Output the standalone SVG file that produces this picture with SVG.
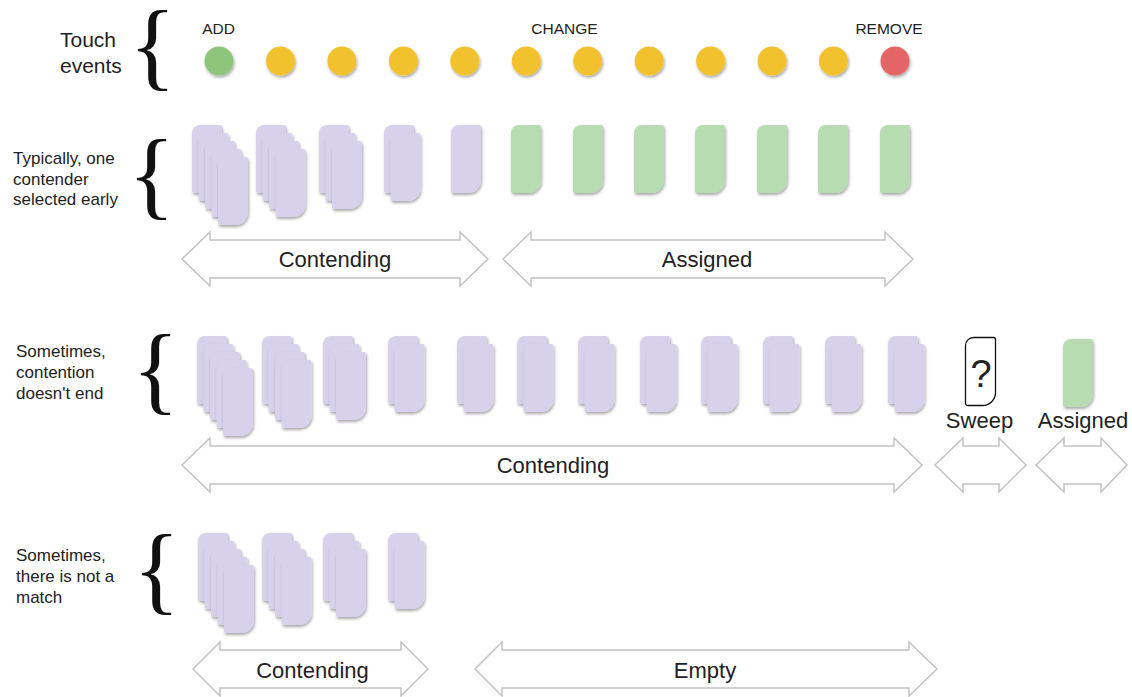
<svg xmlns="http://www.w3.org/2000/svg" width="1132" height="697" viewBox="0 0 1132 697">
<style>
text{font-family:"Liberation Sans",Arial,sans-serif;fill:#222}
.lbl{font-size:17px}
.big{font-size:21px}
.ev{font-size:15.5px;text-anchor:middle}
.al{font-size:22px;text-anchor:middle}
.brace{font-family:"Liberation Serif","Times New Roman",serif;font-size:98px;fill:#111}
.p{fill:#d7d1ec}
.g{fill:#b7dcb1}
.span{fill:#fff;stroke:#c2c2c2;stroke-width:1.5;stroke-linejoin:miter}
.sh{filter:url(#ds)}
</style>
<defs>
<filter id="ds" x="-30%" y="-20%" width="160%" height="150%">
<feDropShadow dx="1" dy="2" stdDeviation="1.4" flood-color="#000" flood-opacity="0.34"/>
</filter>
<path id="card" d="M8,0 H28 A2,2 0 0 1 30,2 V55 A13,13 0 0 1 17,68 H2 A2,2 0 0 1 0,66 V8 A8,8 0 0 1 8,0 Z"/>
</defs>
<rect width="1132" height="697" fill="#fff"/>

<g id="label-touch">
<text class="big" x="60" y="47">Touch</text>
<text class="big" x="60" y="73">events</text>
<text class="brace" x="129" y="78">{</text>
</g>
<g id="label-row1">
<text class="lbl" x="13" y="164">Typically, one</text>
<text class="lbl" x="13" y="185">contender</text>
<text class="lbl" x="13" y="205">selected early</text>
<text class="brace" x="128" y="207">{</text>
</g>
<g id="label-row2">
<text class="lbl" x="16" y="357">Sometimes,</text>
<text class="lbl" x="16" y="378">contention</text>
<text class="lbl" x="16" y="399">doesn't end</text>
<text class="brace" x="132" y="402">{</text>
</g>
<g id="label-row4">
<text class="lbl" x="16" y="561">Sometimes,</text>
<text class="lbl" x="16" y="582">there is not a</text>
<text class="lbl" x="16" y="603">match</text>
<text class="brace" x="133" y="602">{</text>
</g>

<g id="event-labels">
<text class="ev" x="218.5" y="34">ADD</text>
<text class="ev" x="564.5" y="34">CHANGE</text>
<text class="ev" x="889" y="34">REMOVE</text>
</g>
<g id="touch-events" class="sh">
<circle cx="219" cy="61" r="14.5" fill="#8ec47c"/>
<circle cx="280.5" cy="61" r="14.5" fill="#f2c12e"/>
<circle cx="341.9" cy="61" r="14.5" fill="#f2c12e"/>
<circle cx="403.4" cy="61" r="14.5" fill="#f2c12e"/>
<circle cx="464.8" cy="61" r="14.5" fill="#f2c12e"/>
<circle cx="526.3" cy="61" r="14.5" fill="#f2c12e"/>
<circle cx="587.7" cy="61" r="14.5" fill="#f2c12e"/>
<circle cx="649.2" cy="61" r="14.5" fill="#f2c12e"/>
<circle cx="710.6" cy="61" r="14.5" fill="#f2c12e"/>
<circle cx="772.1" cy="61" r="14.5" fill="#f2c12e"/>
<circle cx="833.5" cy="61" r="14.5" fill="#f2c12e"/>
<circle cx="895" cy="61" r="14.5" fill="#e36566"/>
</g>

<g id="row1">
<g id="r1-s0" class="p"><use class="sh" href="#card" x="192" y="125"/><use class="sh" href="#card" x="198.5" y="133"/><use class="sh" href="#card" x="205" y="141"/><use class="sh" href="#card" x="211.5" y="149"/><use class="sh" href="#card" x="218" y="157"/></g>
<g id="r1-s1" class="p"><use class="sh" href="#card" x="256" y="125"/><use class="sh" href="#card" x="262.5" y="133"/><use class="sh" href="#card" x="269" y="141"/><use class="sh" href="#card" x="275.5" y="149"/></g>
<g id="r1-s2" class="p"><use class="sh" href="#card" x="319" y="125"/><use class="sh" href="#card" x="325.5" y="133"/><use class="sh" href="#card" x="332" y="141"/></g>
<g id="r1-s3" class="p"><use class="sh" href="#card" x="384" y="125"/><use class="sh" href="#card" x="390.5" y="133"/></g>
<g id="r1-s4" class="p"><use class="sh" href="#card" x="451" y="125"/></g>
<g id="r1-assigned" class="g">
<use class="sh" href="#card" x="511" y="125"/><use class="sh" href="#card" x="573" y="125"/><use class="sh" href="#card" x="634" y="125"/><use class="sh" href="#card" x="695" y="125"/><use class="sh" href="#card" x="757" y="125"/><use class="sh" href="#card" x="818" y="125"/><use class="sh" href="#card" x="880" y="125"/>
</g>
</g>

<g id="row2">
<g id="r2-s0" class="p"><use class="sh" href="#card" x="197" y="336"/><use class="sh" href="#card" x="203.5" y="344"/><use class="sh" href="#card" x="210" y="352"/><use class="sh" href="#card" x="216.5" y="360"/><use class="sh" href="#card" x="223" y="368"/></g>
<g id="r2-s1" class="p"><use class="sh" href="#card" x="262" y="336"/><use class="sh" href="#card" x="268.5" y="344"/><use class="sh" href="#card" x="275" y="352"/><use class="sh" href="#card" x="281.5" y="360"/></g>
<g id="r2-s2" class="p"><use class="sh" href="#card" x="323" y="336"/><use class="sh" href="#card" x="329.5" y="344"/><use class="sh" href="#card" x="336" y="352"/></g>
<g id="r2-s3" class="p"><use class="sh" href="#card" x="388" y="336"/><use class="sh" href="#card" x="394.5" y="344"/></g>
<g id="r2-s4" class="p"><use class="sh" href="#card" x="457" y="336"/><use class="sh" href="#card" x="463.5" y="344"/></g>
<g id="r2-s5" class="p"><use class="sh" href="#card" x="517" y="336"/><use class="sh" href="#card" x="523.5" y="344"/></g>
<g id="r2-s6" class="p"><use class="sh" href="#card" x="578" y="336"/><use class="sh" href="#card" x="584.5" y="344"/></g>
<g id="r2-s7" class="p"><use class="sh" href="#card" x="640" y="336"/><use class="sh" href="#card" x="646.5" y="344"/></g>
<g id="r2-s8" class="p"><use class="sh" href="#card" x="701" y="336"/><use class="sh" href="#card" x="707.5" y="344"/></g>
<g id="r2-s9" class="p"><use class="sh" href="#card" x="763" y="336"/><use class="sh" href="#card" x="769.5" y="344"/></g>
<g id="r2-s10" class="p"><use class="sh" href="#card" x="825" y="336"/><use class="sh" href="#card" x="831.5" y="344"/></g>
<g id="r2-s11" class="p"><use class="sh" href="#card" x="888" y="336"/><use class="sh" href="#card" x="894.5" y="344"/></g>
<g id="r2-sweep">
<use href="#card" x="965.5" y="337.5" fill="#fff" stroke="#111" stroke-width="1.3"/>
<text x="981" y="387" style="font-size:38px;text-anchor:middle">?</text>
<text class="al" x="979.5" y="428">Sweep</text>
</g>
<g id="r2-assigned">
<use class="sh g" href="#card" x="1063" y="339"/>
<text class="al" x="1083" y="428">Assigned</text>
</g>
</g>

<g id="row4">
<g id="r4-s0" class="p"><use class="sh" href="#card" x="198" y="533"/><use class="sh" href="#card" x="204.5" y="541"/><use class="sh" href="#card" x="211" y="549"/><use class="sh" href="#card" x="217.5" y="557"/><use class="sh" href="#card" x="224" y="565"/></g>
<g id="r4-s1" class="p"><use class="sh" href="#card" x="262" y="533"/><use class="sh" href="#card" x="268.5" y="541"/><use class="sh" href="#card" x="275" y="549"/><use class="sh" href="#card" x="281.5" y="557"/></g>
<g id="r4-s2" class="p"><use class="sh" href="#card" x="323" y="533"/><use class="sh" href="#card" x="329.5" y="541"/><use class="sh" href="#card" x="336" y="549"/></g>
<g id="r4-s3" class="p"><use class="sh" href="#card" x="388" y="533"/><use class="sh" href="#card" x="394.5" y="541"/></g>
</g>

<g id="connectors">
<g id="span-r1-contending">
<polygon class="span" points="182,259 210,232 210,240 460,240 460,232 488,259 460,286 460,278 210,278 210,286"/>
<text class="al" x="335" y="267">Contending</text>
</g>
<g id="span-r1-assigned">
<polygon class="span" points="503,259 531,232 531,240 885,240 885,232 913,259 885,286 885,278 531,278 531,286"/>
<text class="al" x="707" y="267">Assigned</text>
</g>
<g id="span-r2-contending">
<polygon class="span" points="182,465 210,438 210,446 894,446 894,438 922,465 894,492 894,484 210,484 210,492"/>
<text class="al" x="553" y="473">Contending</text>
</g>
<g id="span-r2-sweep">
<polygon class="span" points="935,465 963,438 963,446 999,446 999,438 1026,465 999,492 999,484 963,484 963,492"/>
</g>
<g id="span-r2-assigned">
<polygon class="span" points="1036,465 1064,438 1064,446 1101,446 1101,438 1127,465 1101,492 1101,484 1064,484 1064,492"/>
</g>
<g id="span-r4-contending">
<polygon class="span" points="193,669 220,642 220,650 401,650 401,642 428,669 401,696 401,688 220,688 220,696"/>
<text class="al" x="312.5" y="678">Contending</text>
</g>
<g id="span-r4-empty">
<polygon class="span" points="475,669 502,642 502,650 909,650 909,642 937,669 909,696 909,688 502,688 502,696"/>
<text class="al" x="705" y="678">Empty</text>
</g>
</g>
</svg>
